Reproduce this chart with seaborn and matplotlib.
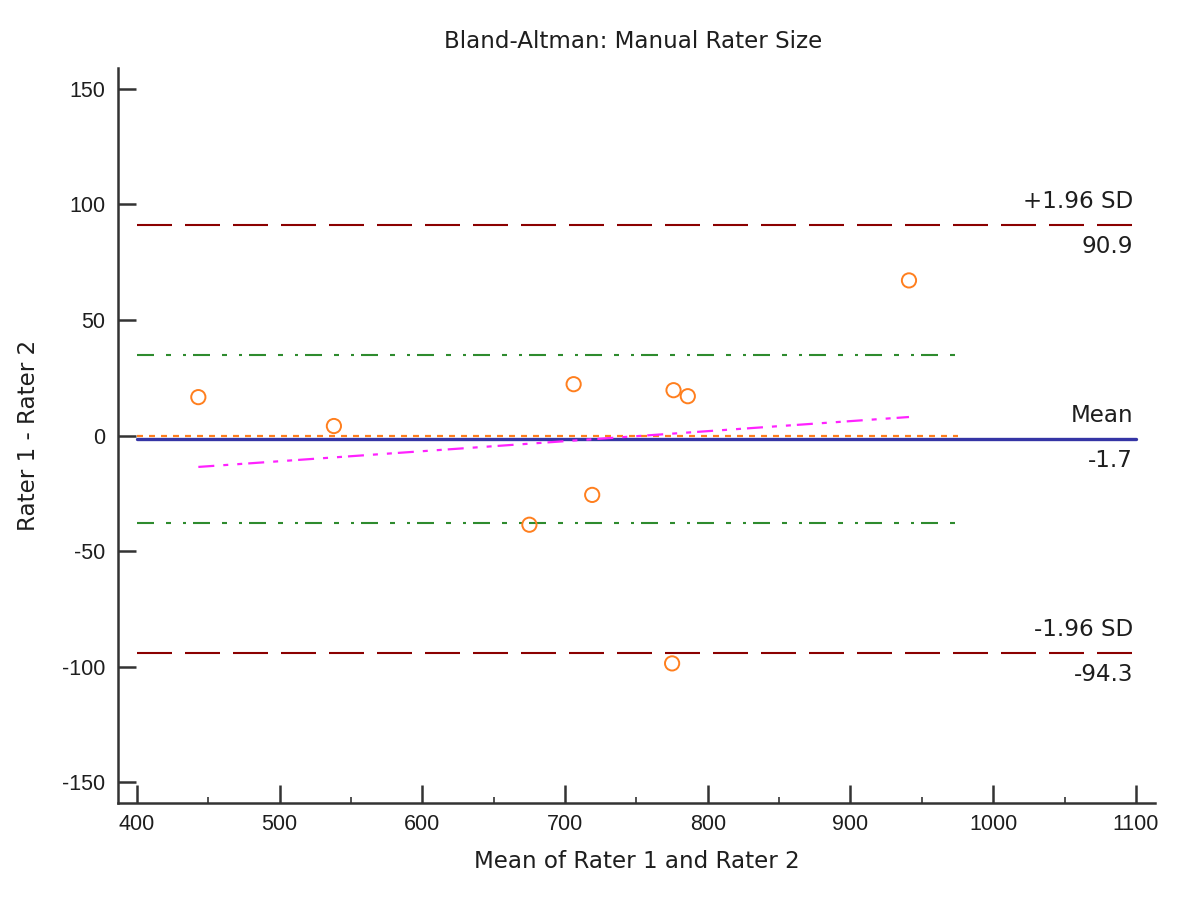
import matplotlib
matplotlib.use("Agg")
import matplotlib.pyplot as plt
import seaborn as sns
import pandas as pd
import numpy as np

# ---- data ----
mean_vals = [443, 538, 675, 706, 719, 776, 786, 775, 941]
diff_vals = [16.6, 4.1, -38.6, 22.2, -25.7, 19.6, 17.0, -98.6, 67.1]
mean_diff = -1.7
upper_loa = 90.9
lower_loa = -94.3
ci_upper = 34.7
ci_lower = -37.8
reg_x = [443, 941]
reg_y = [-13.6, 8.0]
zero_x = [400, 975]
ci_x = [400, 975]
loa_x = [400, 1100]
x_ticks = [400, 500, 600, 700, 800, 900, 1000, 1100]
y_ticks = [-150, -100, -50, 0, 50, 100, 150]

df = pd.DataFrame({"mean": mean_vals, "diff": diff_vals})

sns.set_style("ticks")
plt.rcParams["font.family"] = ["Liberation Sans", "DejaVu Sans"]
plt.rcParams["lines.scale_dashes"] = False
plt.rcParams["axes.unicode_minus"] = False

fig = plt.figure(figsize=(11.82, 9.02), dpi=100)
ax = fig.add_axes([118/1182, 1-803/902, (1155-118)/1182, (803-68)/902])

txt = "#1e1e1e"
darkred = "#8b0000"
green = "#2e8b2e"
blue = "#3535a5"
orange = "#ff7f1e"
magenta = "#ff22ff"
lab_font = ["DejaVu Sans"]
lab_fs = 16.6

def px(v):
    return v * 0.72

# limits of agreement
for yv in (upper_loa, lower_loa):
    sns.lineplot(x=loa_x, y=[yv, yv], ax=ax, color=darkred, lw=1.5, estimator=None)
    ax.lines[-1].set_dashes((px(35), px(13)))
# confidence lines
for yv in (ci_upper, ci_lower):
    sns.lineplot(x=ci_x, y=[yv, yv], ax=ax, color=green, lw=1.5, estimator=None)
    ax.lines[-1].set_dashes((px(17), px(12), px(5), px(12), px(3), px(7)))
# mean line
sns.lineplot(x=loa_x, y=[mean_diff, mean_diff], ax=ax, color=blue, lw=2.4, estimator=None)
# zero line
sns.lineplot(x=zero_x, y=[0, 0], ax=ax, color=orange, lw=1.6, estimator=None)
ax.lines[-1].set_dashes((px(6), px(6)))
# regression line
sns.lineplot(x=reg_x, y=reg_y, ax=ax, color=magenta, lw=1.6, estimator=None)
ax.lines[-1].set_dashes((px(16), px(9), px(5), px(9), px(5), px(6)))

# points
sns.scatterplot(data=df, x="mean", y="diff", ax=ax, marker="o", s=105,
                facecolors="none", edgecolor=orange, linewidth=1.4, zorder=5)

ax.set_xlim(386.7, 1113.4)
ax.set_ylim(-159, 159)
ax.set_xticks(x_ticks)
ax.set_xticks([450, 550, 650, 750, 850, 950, 1050], minor=True)
ax.set_yticks(y_ticks)
ax.tick_params(axis="both", which="major", direction="in", length=13, width=1.8,
               color="#333333", labelsize=15.5, labelcolor=txt)
ax.tick_params(axis="x", which="minor", direction="in", length=4.5, width=1.2, color="#333333")
ax.tick_params(axis="y", which="major", pad=9)
ax.tick_params(axis="x", which="major", pad=8)

for s in ("top", "right"):
    ax.spines[s].set_visible(False)
for s in ("left", "bottom"):
    ax.spines[s].set_linewidth(1.8)
    ax.spines[s].set_color("#333333")

# annotations
tx = 1098
for yv, top, bottom in ((upper_loa, "+1.96 SD", f"{upper_loa:.1f}"),
                        (mean_diff, "Mean", f"{mean_diff:.1f}"),
                        (lower_loa, "-1.96 SD", f"{lower_loa:.1f}")):
    ax.text(tx, yv + 5.5, top, ha="right", va="bottom", fontsize=lab_fs, color=txt, family=lab_font)
    ax.text(tx, yv - 4, bottom, ha="right", va="top", fontsize=lab_fs, color=txt, family=lab_font)

ax.set_xlabel("Mean of Rater 1 and Rater 2", fontsize=lab_fs, color=txt, labelpad=11, family=lab_font)
ax.set_ylabel("Rater 1 - Rater 2", fontsize=lab_fs, color=txt, labelpad=16, family=lab_font)
fig.text(633/1182, 1-42/902, "Bland-Altman: Manual Rater Size", ha="center", va="center",
         fontsize=lab_fs, color=txt, family=lab_font)

fig.savefig("out.png", dpi=100, facecolor="white")
